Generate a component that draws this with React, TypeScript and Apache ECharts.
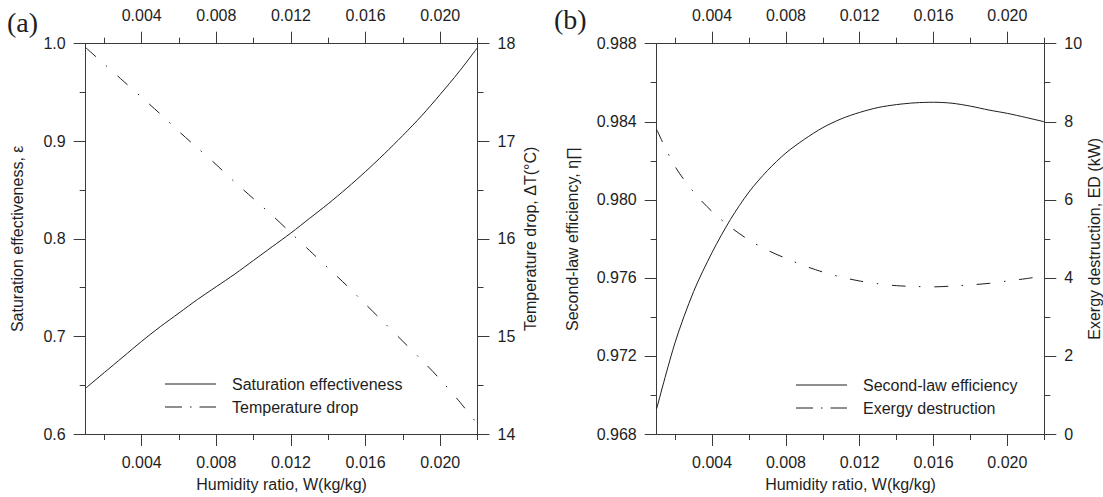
import React, { useEffect, useRef } from "react";
import * as echarts from "echarts";

// ---------- data ----------
const humidity = [
  0.001, 0.002, 0.003, 0.004, 0.005, 0.006, 0.007, 0.008, 0.009, 0.01, 0.011,
  0.012, 0.013, 0.014, 0.015, 0.016, 0.017, 0.018, 0.019, 0.02, 0.021, 0.022,
];
// panel (a)
const saturationEffectiveness = [
  0.647, 0.663, 0.679, 0.695, 0.71, 0.724, 0.738, 0.751, 0.764, 0.778, 0.792,
  0.806, 0.821, 0.836, 0.852, 0.869, 0.887, 0.906, 0.926, 0.948, 0.971, 0.996,
];
const temperatureDrop = [
  17.96, 17.79, 17.62, 17.45, 17.28, 17.1, 16.93, 16.76, 16.58, 16.41, 16.24,
  16.06, 15.88, 15.7, 15.52, 15.33, 15.14, 14.95, 14.76, 14.56, 14.34, 14.1,
];
// panel (b)
const secondLawEfficiency = [
  0.9693, 0.9727, 0.9753, 0.9773, 0.979, 0.9804, 0.9815, 0.9824, 0.9831,
  0.9837, 0.98415, 0.98448, 0.98473, 0.98488, 0.98497, 0.985, 0.98495, 0.9848,
  0.9846, 0.98443, 0.98422, 0.984,
];
const exergyDestruction = [
  7.8, 6.85, 6.2, 5.7, 5.3, 4.97, 4.71, 4.5, 4.31, 4.15, 4.02, 3.92, 3.85, 3.8,
  3.78, 3.77, 3.79, 3.82, 3.86, 3.92, 3.98, 4.05,
];

const xMajorTicks = [0.004, 0.008, 0.012, 0.016, 0.02];
const xMinorTicks = [0.002, 0.006, 0.01, 0.014, 0.018, 0.022];

const legendA = ["Saturation effectiveness", "Temperature drop"];
const legendB = ["Second-law efficiency", "Exergy destruction"];

// ---------- styles ----------
const FONT = "'Liberation Sans', Arial, Helvetica, sans-serif";
const TEXT = "#1e1e1e";
const AXIS = "#3a3a3a";
const LINE = "#1e1e1e";
const CURVE_DASH = [13.7, 13.5, 1.5, 13.8];
const LEGEND_DASH = [17, 8, 1.5, 8];

function xAxesFor(gridIndex: number) {
  const common = {
    gridIndex,
    type: "value" as const,
    min: 0.001,
    max: 0.022,
    splitLine: { show: false },
  };
  const label = {
    show: true,
    customValues: xMajorTicks,
    formatter: (v: number) => v.toFixed(3),
    fontSize: 16,
    fontFamily: FONT,
    color: TEXT,
    margin: 20,
  };
  return [
    {
      ...common,
      position: "bottom",
      name: "Humidity ratio, W(kg/kg)",
      nameLocation: "middle",
      nameGap: 42,
      nameTextStyle: { fontSize: 16, fontFamily: FONT, color: TEXT },
      axisLine: { show: true, lineStyle: { color: AXIS, width: 1 } },
      axisTick: {
        show: true,
        inside: false,
        length: 12,
        customValues: xMajorTicks,
        lineStyle: { color: AXIS, width: 1 },
      },
      axisLabel: label,
    },
    {
      ...common,
      position: "bottom",
      axisLine: { show: false },
      axisTick: {
        show: true,
        inside: false,
        length: 6,
        customValues: xMinorTicks,
        lineStyle: { color: AXIS, width: 1 },
      },
      axisLabel: { show: false },
    },
    {
      ...common,
      position: "top",
      axisLine: { show: true, lineStyle: { color: AXIS, width: 1 } },
      axisTick: {
        show: true,
        inside: false,
        length: 12,
        customValues: xMajorTicks,
        lineStyle: { color: AXIS, width: 1 },
      },
      axisLabel: label,
    },
    {
      ...common,
      position: "top",
      axisLine: { show: false },
      axisTick: {
        show: true,
        inside: false,
        length: 6,
        customValues: xMinorTicks,
        lineStyle: { color: AXIS, width: 1 },
      },
      axisLabel: { show: false },
    },
  ];
}

function yAxis(
  gridIndex: number,
  position: "left" | "right",
  min: number,
  max: number,
  interval: number,
  digits: number,
  name: string,
  nameGap: number
) {
  return {
    gridIndex,
    type: "value" as const,
    position,
    min,
    max,
    interval,
    name,
    nameLocation: "middle",
    nameGap,
    nameRotate: 90,
    nameTextStyle: { fontSize: 16, fontFamily: FONT, color: TEXT },
    splitLine: { show: false },
    axisLine: { show: true, lineStyle: { color: AXIS, width: 1 } },
    axisTick: {
      show: true,
      inside: false,
      length: 12,
      lineStyle: { color: AXIS, width: 1 },
    },
    minorTick: {
      show: true,
      splitNumber: 2,
      length: 6,
      lineStyle: { color: AXIS, width: 1 },
    },
    axisLabel: {
      show: true,
      formatter: (v: number) => v.toFixed(digits),
      fontSize: 16,
      fontFamily: FONT,
      color: TEXT,
      margin: 20,
    },
  };
}

function pairs(ys: number[]) {
  return humidity.map((x, i) => [x, ys[i]]);
}

function legendGraphics(x0: number, textX: number, y1: number, y2: number, names: string[]) {
  return [
    {
      type: "line",
      shape: { x1: x0, y1: y1, x2: x0 + 51, y2: y1 },
      style: { stroke: LINE, lineWidth: 1 },
    },
    {
      type: "text",
      x: textX,
      y: y1,
      style: {
        text: names[0],
        fontSize: 16,
        fontFamily: FONT,
        fill: TEXT,
        verticalAlign: "middle",
      },
    },
    {
      type: "line",
      shape: { x1: x0, y1: y2, x2: x0 + 51, y2: y2 },
      style: { stroke: LINE, lineWidth: 1, lineDash: LEGEND_DASH },
    },
    {
      type: "text",
      x: textX,
      y: y2,
      style: {
        text: names[1],
        fontSize: 16,
        fontFamily: FONT,
        fill: TEXT,
        verticalAlign: "middle",
      },
    },
  ];
}

export default function App() {
  const ref = useRef<HTMLDivElement>(null);

  useEffect(() => {
    if (!ref.current) return;
    const chart = echarts.init(ref.current, undefined, { renderer: "svg" });

    const option = {
      animation: false,
      backgroundColor: "#ffffff",
      grid: [
        { left: 85.7, top: 43.7, width: 391.8, height: 392.3 },
        { left: 656.7, top: 43.7, width: 391.7, height: 392.3 },
      ],
      xAxis: [...xAxesFor(0), ...xAxesFor(1)],
      yAxis: [
        yAxis(0, "left", 0.6, 1.0, 0.1, 1, "Saturation effectiveness, ε", 60),
        yAxis(0, "right", 14, 18, 1, 0, "Temperature drop, ΔT(°C)", 45),
        yAxis(1, "left", 0.968, 0.988, 0.004, 3, "Second-law efficiency, η∏", 76),
        yAxis(1, "right", 0, 10, 2, 0, "Exergy destruction, ED (kW)", 37),
      ],
      series: [
        {
          name: legendA[0],
          type: "line",
          xAxisIndex: 0,
          yAxisIndex: 0,
          data: pairs(saturationEffectiveness),
          smooth: 0.3,
          showSymbol: false,
          lineStyle: { color: LINE, width: 1 },
        },
        {
          name: legendA[1],
          type: "line",
          xAxisIndex: 0,
          yAxisIndex: 1,
          data: pairs(temperatureDrop),
          smooth: 0.3,
          showSymbol: false,
          lineStyle: { color: LINE, width: 1, type: CURVE_DASH },
        },
        {
          name: legendB[0],
          type: "line",
          xAxisIndex: 4,
          yAxisIndex: 2,
          data: pairs(secondLawEfficiency),
          smooth: 0.3,
          showSymbol: false,
          lineStyle: { color: LINE, width: 1 },
        },
        {
          name: legendB[1],
          type: "line",
          xAxisIndex: 4,
          yAxisIndex: 3,
          data: pairs(exergyDestruction),
          smooth: 0.3,
          showSymbol: false,
          lineStyle: { color: LINE, width: 1, type: CURVE_DASH },
        },
      ],
      graphic: [
        {
          type: "text",
          x: 7,
          y: 8,
          style: {
            text: "(a)",
            fontSize: 28,
            fontFamily: "'Liberation Serif', 'Times New Roman', serif",
            fill: TEXT,
          },
        },
        {
          type: "text",
          x: 554,
          y: 5,
          style: {
            text: "(b)",
            fontSize: 28,
            fontFamily: "'Liberation Serif', 'Times New Roman', serif",
            fill: TEXT,
          },
        },
        ...legendGraphics(165, 232, 384, 407, legendA),
        ...legendGraphics(796, 863, 385, 408, legendB),
      ],
    };

    chart.setOption(option as any);
    return () => chart.dispose();
  }, []);

  return (
    <div
      ref={ref}
      style={{ position: "absolute", left: 0, top: 0, width: 1103, height: 497 }}
    />
  );
}
